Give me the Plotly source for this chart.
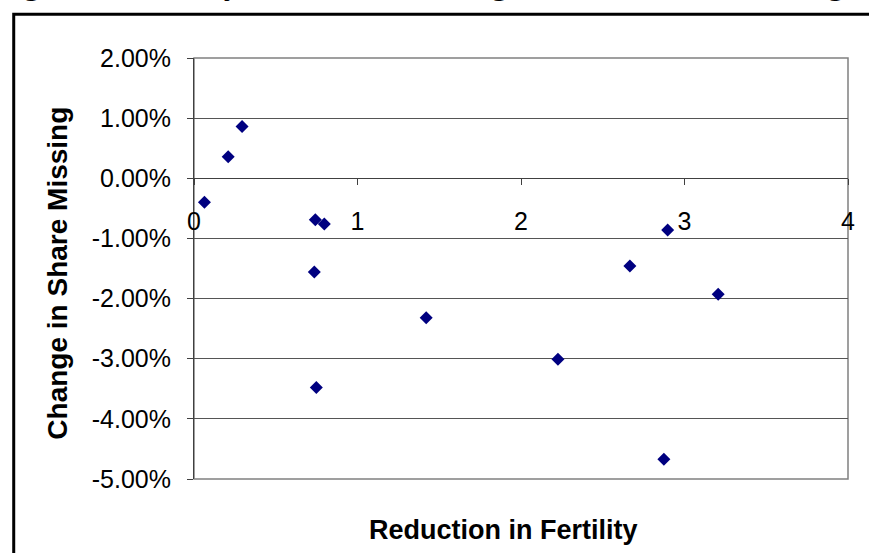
import plotly.graph_objects as go

# Data
fertility_reduction = [0.064, 0.209, 0.294, 0.742, 0.797, 0.736, 0.748, 1.42, 2.226, 2.666, 2.897, 2.874, 3.206]
share_missing_change_pct = [-0.40, 0.36, 0.86, -0.69, -0.76, -1.56, -3.48, -2.32, -3.01, -1.46, -0.86, -4.67, -1.93]
x_ticks = [0, 1, 2, 3, 4]
y_ticks_pct = [2, 1, 0, -1, -2, -3, -4, -5]

share_missing_change = [v / 100 for v in share_missing_change_pct]
y_ticks = [v / 100 for v in y_ticks_pct]
y_ticktext = [f"{v:.2f}%" for v in y_ticks_pct]

W, H = 869, 553
L, R, T, B = 193.5, 20.7, 57.7, 73.7
pw, ph = W - L - R, H - T - B

def px_to_paper_x(px):
    return (px - L) / pw

def px_to_paper_y(py):
    return 1 - (py - T) / ph

ymin, ymax = -0.05, 0.02

fig = go.Figure()
fig.add_trace(go.Scatter(
    x=fertility_reduction, y=share_missing_change, mode="markers",
    marker=dict(symbol="diamond", size=10, color="#000080", line=dict(width=0)),
    showlegend=False, hoverinfo="skip",
))

tick_font = dict(family="Liberation Sans, Arial, sans-serif", size=25, color="black")
title_font = dict(family="Liberation Sans, Arial, sans-serif", size=27, color="black")

fig.update_layout(
    width=W, height=H,
    margin=dict(l=L, r=R, t=T, b=B, pad=0),
    paper_bgcolor="white", plot_bgcolor="white",
    xaxis=dict(
        range=[0, 4], tickvals=x_ticks, ticktext=[str(v) for v in x_ticks],
        showgrid=False, zeroline=False,
        showline=True, linecolor="#404040", linewidth=1,
        ticks="outside", ticklen=6, tickcolor="#404040",
        anchor="free", position=(0 - ymin) / (ymax - ymin),
        tickfont=tick_font, ticklabelstandoff=15,
    ),
    yaxis=dict(
        range=[ymin, ymax], tickvals=y_ticks, ticktext=y_ticktext,
        showgrid=True, gridcolor="#555555", gridwidth=1,
        zeroline=False,
        showline=True, linecolor="#404040", linewidth=1,
        ticks="outside", ticklen=6, tickcolor="#404040",
        tickfont=tick_font, ticklabelstandoff=11,
    ),
    shapes=[
        dict(type="rect", xref="paper", yref="paper", x0=0, y0=0, x1=1, y1=1,
             line=dict(color="#808080", width=1.5), layer="below"),
        dict(type="rect", xref="paper", yref="paper",
             x0=px_to_paper_x(13), y0=px_to_paper_y(H + 20),
             x1=px_to_paper_x(W + 20), y1=px_to_paper_y(14),
             line=dict(color="black", width=3)),
    ],
    annotations=[
        dict(text="<b>Change in Share Missing</b>", xref="paper", yref="paper",
             x=px_to_paper_x(57), y=px_to_paper_y(273), textangle=-90,
             showarrow=False, font=dict(title_font, size=28), xanchor="center", yanchor="middle"),
        dict(text="<b>Reduction in Fertility</b>", xref="paper", yref="paper",
             x=px_to_paper_x(503), y=px_to_paper_y(530),
             showarrow=False, font=title_font, xanchor="center", yanchor="middle"),
        dict(text="<b>Figure 5: Fertility Decline and Change in the Share of Missing Women</b>",
             xref="paper", yref="paper",
             x=px_to_paper_x(-8), y=px_to_paper_y(3),
             showarrow=False, xanchor="left", yanchor="bottom",
             font=dict(family="Liberation Serif, Times New Roman, serif", size=32, color="black")),
    ],
)

fig.write_html("out.html", config={"displayModeBar": False},
               post_script="document.body.style.margin='0';")
